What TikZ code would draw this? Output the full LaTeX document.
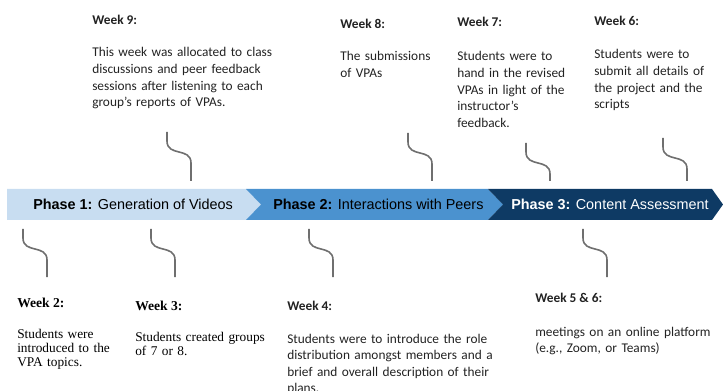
\documentclass[tikz,border=0pt]{standalone}
\usepackage{fontspec}
\setmainfont{Carlito}
\newfontfamily\arialfont{Liberation Sans}
\newfontfamily\timesfont{Liberation Serif}
\usetikzlibrary{calc}

\definecolor{phaseA}{HTML}{C8DDF1}
\definecolor{phaseB}{HTML}{4B92CF}
\definecolor{phaseC}{HTML}{0E3A64}
\definecolor{linkgray}{HTML}{6F6F6F}
\definecolor{inkgray}{HTML}{222222}

\begin{document}
\begin{tikzpicture}[%
      x=0.75pt, y=-0.75pt,
      phase/.style={anchor=base west, inner sep=0pt, font=\arialfont\fontsize{10.8}{13}\selectfont},
      wtitle/.style={anchor=base west, inner sep=0pt, text=inkgray, font=\bfseries\fontsize{10}{12.4}\selectfont},
      wbody/.style={anchor=base west, inner sep=0pt, text=inkgray, align=left, text width=220pt, font=\fontsize{10}{12.4}\selectfont},
      ttitle/.style={wtitle, text=black, font=\timesfont\bfseries\fontsize{10.2}{11}\selectfont},
      tbody/.style={wbody, text=black, font=\timesfont\fontsize{10}{10.7}\selectfont},
      squig/.style={draw=linkgray, line width=1.2pt,
        to path={(\tikztostart) -- ++(0,9) .. controls +(0,16) and +(0,-16) .. ($(\tikztostart)+(24,31)$) -- (\tikztotarget)}},
      ]
      \useasboundingbox (0,0) rectangle (723,391);

      % timeline bar
      \fill [phaseA] (7,189) -- (246,189) -- (261,204.5) -- (246,220) -- (7,220) -- cycle;
      \fill [phaseB] (246,189) -- (488,189) -- (503,204.5) -- (488,220) -- (246,220) -- (261,204.5) -- cycle;
      \fill [phaseC] (488,189) -- (712,189) -- (723,204.5) -- (712,220) -- (488,220) -- (503,204.5) -- cycle;

      \node [phase] (p1) at (33,209.5) {\textbf{Phase 1:} Generation of Videos};
      \node [phase] (p2) at (273,209.5) {\textbf{Phase 2:} Interactions with Peers};
      \node [phase, text=white] (p3) at (511,209.5) {\textbf{Phase 3:} Content Assessment};

      % upper weeks
      \node [wtitle] (w9t) at (92,24.5) {Week 9:};
      \node [wbody] (w9b) at (92,57) {This week was allocated to class\\discussions and peer feedback\\sessions after listening to each\\group’s reports of VPAs.};
      \node [wtitle] (w8t) at (340,29) {Week 8:};
      \node [wbody] (w8b) at (340,61) {The submissions\\of VPAs};
      \node [wtitle] (w7t) at (457,27) {Week 7:};
      \node [wbody] (w7b) at (457,61) {Students were to\\hand in the revised\\VPAs in light of the\\instructor’s\\feedback.};
      \node [wtitle] (w6t) at (594,26) {Week 6:};
      \node [wbody] (w6b) at (594,59) {Students were to\\submit all details of\\the project and the\\scripts};

      % lower weeks
      \node [ttitle] (w2t) at (17,307) {Week 2:};
      \node [tbody] (w2b) at (17,338) {Students were\\introduced to the\\VPA topics.};
      \node [ttitle] (w3t) at (135,310) {Week 3:};
      \node [tbody] (w3b) at (135,341) {Students created groups\\of 7 or 8.};
      \node [wtitle] (w4t) at (287,310) {Week 4:};
      \node [wbody] (w4b) at (287,343) {Students were to introduce the role\\distribution amongst members and a\\brief and overall description of their\\plans.};
      \node [wtitle] (w5t) at (535,302) {Week 5 \& 6:};
      \node [wbody] (w5b) at (535,336) {meetings on an online platform\\(e.g., Zoom, or Teams)};

      % connectors
      \coordinate (c9a) at (167,132);  \coordinate (c9b) at (191,181);
      \coordinate (c8a) at (408,133);  \coordinate (c8b) at (432,181);
      \coordinate (c7a) at (526,143);  \coordinate (c7b) at (550,181);
      \coordinate (c6a) at (663,138);  \coordinate (c6b) at (687,181);
      \coordinate (c2a) at (23,229);   \coordinate (c2b) at (47,277);
      \coordinate (c3a) at (151,229);  \coordinate (c3b) at (175,277);
      \coordinate (c4a) at (309,229);  \coordinate (c4b) at (333,277);
      \coordinate (c5a) at (583,229);  \coordinate (c5b) at (607,277);

      \foreach \w in {9,8,7,6,2,3,4,5}
        \draw [squig] (c\w a) to (c\w b);
\end{tikzpicture}
\end{document}
